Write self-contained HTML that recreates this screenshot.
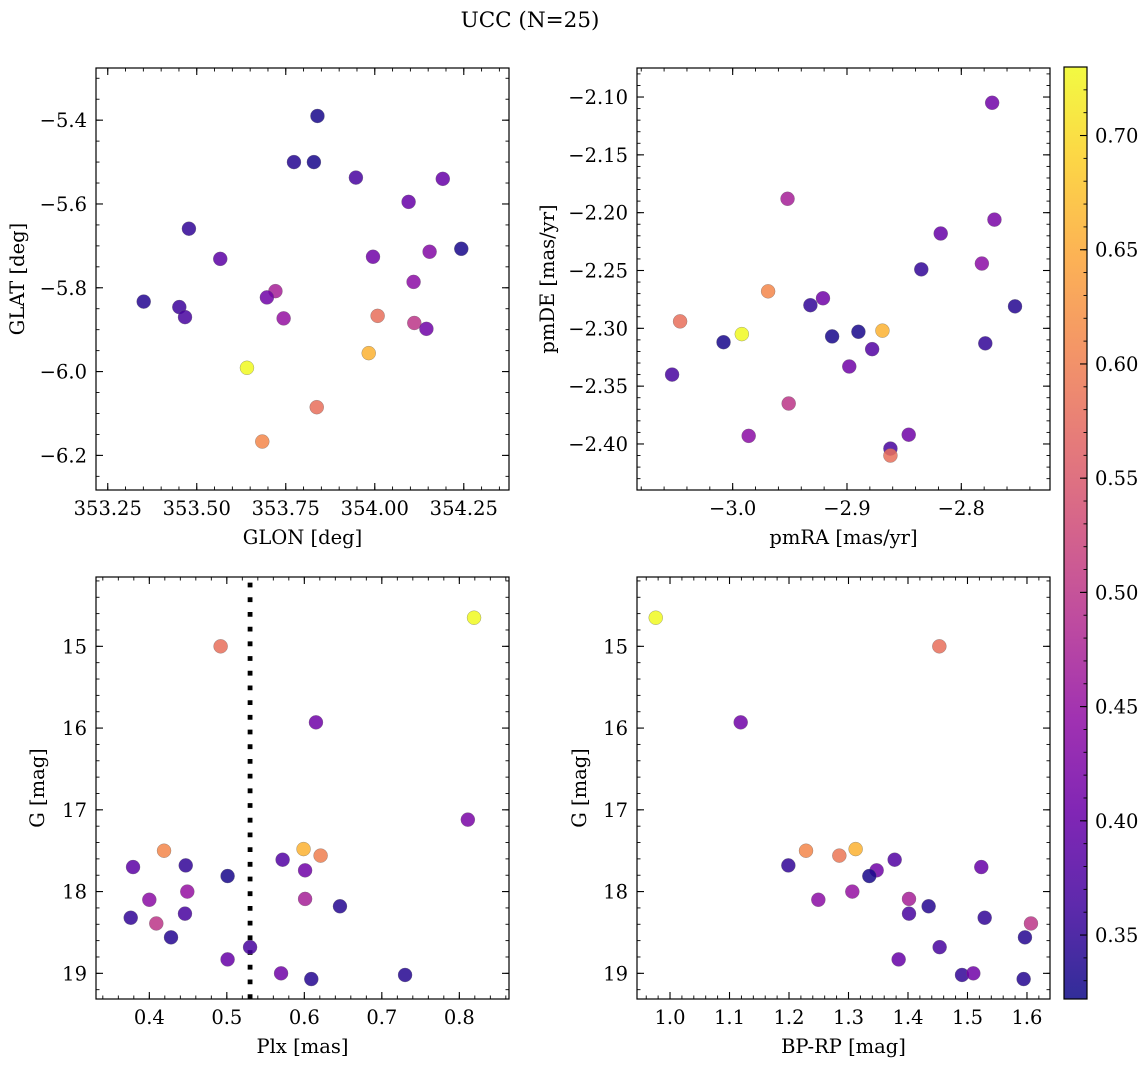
<!DOCTYPE html>
<html><head><meta charset="utf-8"><style>
body{margin:0;background:#fff}
svg text{font-family:"DejaVu Serif","Liberation Serif",serif;fill:#000}
</style></head><body>
<svg id="fig" width="1148" height="1067" viewBox="0 0 1148 1067" xmlns="http://www.w3.org/2000/svg">
<text x="530" y="27" font-size="21.5" text-anchor="middle">UCC (N=25)</text>
</svg>
<script>
// ---- data ----
const glon=[353.839,353.773,353.829,353.947,354.191,354.095,353.478,354.243,353.566,353.995,354.154,354.109,353.351,353.721,353.697,353.451,353.467,353.744,354.008,354.111,354.145,353.983,353.641,353.837,353.684];
const glat=[-5.390,-5.500,-5.500,-5.537,-5.540,-5.595,-5.659,-5.707,-5.731,-5.726,-5.714,-5.786,-5.833,-5.808,-5.823,-5.846,-5.870,-5.873,-5.867,-5.884,-5.898,-5.956,-5.991,-6.085,-6.167];
const cTL=[0.33,0.34,0.33,0.37,0.40,0.40,0.35,0.33,0.39,0.41,0.43,0.44,0.34,0.47,0.41,0.36,0.37,0.45,0.58,0.50,0.41,0.66,0.73,0.58,0.61];
const pmra=[-2.773,-2.952,-2.771,-2.818,-2.835,-2.782,-2.969,-2.921,-2.932,-2.753,-3.046,-2.992,-2.869,-3.008,-2.913,-2.890,-2.878,-2.779,-3.053,-2.898,-2.951,-2.986,-2.846,-2.862,-2.862];
const pmde=[-2.105,-2.188,-2.206,-2.218,-2.249,-2.244,-2.268,-2.274,-2.280,-2.281,-2.294,-2.305,-2.302,-2.312,-2.307,-2.303,-2.318,-2.313,-2.340,-2.333,-2.365,-2.393,-2.392,-2.404,-2.410];
const cTR=[0.41,0.47,0.42,0.40,0.35,0.44,0.61,0.41,0.35,0.34,0.58,0.73,0.66,0.33,0.33,0.33,0.38,0.35,0.37,0.41,0.50,0.44,0.41,0.37,0.58];
const plx=[0.819,0.492,0.615,0.811,0.599,0.621,0.419,0.572,0.379,0.447,0.601,0.501,0.449,0.400,0.601,0.646,0.376,0.446,0.409,0.428,0.530,0.501,0.570,0.609,0.730];
const gBL=[14.65,15.00,15.93,17.12,17.48,17.56,17.50,17.61,17.70,17.68,17.74,17.81,18.00,18.10,18.09,18.18,18.32,18.27,18.39,18.56,18.68,18.83,19.00,19.07,19.02];
const cBL=[0.73,0.58,0.41,0.42,0.66,0.60,0.61,0.38,0.39,0.35,0.41,0.33,0.45,0.44,0.47,0.34,0.35,0.37,0.50,0.34,0.37,0.40,0.41,0.34,0.34];
const bprp=[0.976,1.4527,1.1188,1.2286,1.2846,1.3120,1.1989,1.3776,1.3473,1.3350,1.5232,1.3064,1.2493,1.4017,1.4347,1.4017,1.5289,1.6067,1.5966,1.4532,1.3843,1.4908,1.5098,1.5944];
const gBR=[14.65,15.00,15.93,17.50,17.56,17.48,17.68,17.61,17.74,17.81,17.70,18.00,18.10,18.09,18.18,18.27,18.32,18.39,18.56,18.68,18.83,19.02,19.00,19.07];
const cBR=[0.73,0.58,0.41,0.61,0.59,0.66,0.35,0.38,0.41,0.33,0.40,0.45,0.44,0.47,0.34,0.37,0.35,0.50,0.34,0.37,0.40,0.35,0.41,0.34];
const plxCut=0.53;
const cmin=0.322, cmax=0.73;
const cbTicks=[0.35,0.40,0.45,0.50,0.55,0.60,0.65,0.70];

const NS="http://www.w3.org/2000/svg";
const svg=document.getElementById('fig');
const FS=19.5;
function mk(tag,attrs,parent){const e=document.createElementNS(NS,tag);for(const k in attrs)e.setAttribute(k,attrs[k]);(parent||svg).appendChild(e);return e;}
const stops=[[13,8,135],[65,4,157],[106,0,168],[143,13,164],[177,42,144],[204,71,120],[225,100,98],[242,132,75],[252,166,54],[252,206,37],[240,249,33]];
function plasma(t){t=Math.max(0,Math.min(1,t));const f=t*10,i=Math.min(9,Math.floor(f)),u=f-i;const a=stops[i],b=stops[i+1];
 return 'rgb('+[0,1,2].map(k=>Math.round(a[k]+(b[k]-a[k])*u)).join(',')+')';}
function cmap(v){return plasma((v-cmin)/(cmax-cmin));}
const fmt=(v,d)=>{const s=Math.abs(v).toFixed(d);return (v<-1e-9?'\u2212':'')+s;};

function panel(o){
 const {x0,y0,w,h,xd,yd,name}=o;
 const sx=v=>x0+(v-xd[0])/(xd[1]-xd[0])*w;
 const sy=v=>y0+(yd[1]-v)/(yd[1]-yd[0])*h;
 const g=mk('g',{});
 
 
 const lo=(a,b)=>Math.min(a,b),hi=(a,b)=>Math.max(a,b);
 function ticks(dom,step,len,isX,major){
  const a=lo(dom[0],dom[1]),b=hi(dom[0],dom[1]);
  for(let k=Math.ceil(a/step-1e-6);k*step<=b+1e-9;k++){
   const v=k*step;
   if(isX){const p=sx(v);
    mk('line',{x1:p,x2:p,y1:y0+h,y2:y0+h-len,stroke:'#000','stroke-width':major?1.1:0.9},g);
    mk('line',{x1:p,x2:p,y1:y0,y2:y0+len,stroke:'#000','stroke-width':major?1.1:0.9},g);
    if(major){const t=mk('text',{x:p,y:y0+h+25,'font-size':FS,'text-anchor':'middle'},g);t.textContent=fmt(v,o.xf);
     
     }
   } else {const p=sy(v);
    mk('line',{x1:x0,x2:x0+len,y1:p,y2:p,stroke:'#000','stroke-width':major?1.1:0.9},g);
    mk('line',{x1:x0+w,x2:x0+w-len,y1:p,y2:p,stroke:'#000','stroke-width':major?1.1:0.9},g);
    if(major){const t=mk('text',{x:x0-9,y:p+7,'font-size':FS,'text-anchor':'end'},g);t.textContent=o.yneg?fmt(-v,o.yf):fmt(v,o.yf);
     
     }
   }
  }
 }
 ticks(xd,o.xm,3.5,true,false);ticks(xd,o.xM,7,true,true);
 ticks(yd,o.ym,3.5,false,false);ticks(yd,o.yM,7,false,true);
 if(o.vline!==undefined){const l=mk('line',{x1:sx(o.vline),x2:sx(o.vline),y1:y0+h,y2:y0,stroke:'#000','stroke-width':4.8,'stroke-dasharray':'4.8 9.9'},g);
  
  }
 for(let i=0;i<o.xs.length;i++){
  const c=mk('circle',{cx:sx(o.xs[i]),cy:sy(o.ys[i]),r:7,fill:cmap(o.cs[i]),'fill-opacity':0.85,stroke:'#666','stroke-opacity':0.6,'stroke-width':0.5},g);
  
  
 }
 mk('rect',{x:x0,y:y0,width:w,height:h,fill:'none',stroke:'#000','stroke-width':1.2},g);
 const xl=mk('text',{x:x0+w/2,y:y0+h+54,'font-size':FS,'text-anchor':'middle'},g);xl.textContent=o.xl;
 
 
 const yl=mk('text',{x:o.ylx,y:y0+h/2,'font-size':FS,'text-anchor':'middle',transform:'rotate(-90 '+o.ylx+' '+(y0+h/2)+')'},g);yl.textContent=o.yl;
 
 
}
panel({name:'panel-glon-glat',x0:96,y0:68,w:413,h:422,xd:[353.217,354.377],yd:[-6.2826,-5.2755],xM:0.25,xm:0.05,yM:0.2,ym:0.05,xf:2,yf:1,xs:glon,ys:glat,cs:cTL,xl:'GLON [deg]',yl:'GLAT [deg]',ylx:24});
panel({name:'panel-pm',x0:637,y0:68,w:413,h:422,xd:[-3.0837,-2.7224],yd:[-2.4398,-2.0749],xM:0.1,xm:0.02,yM:0.05,ym:0.01,xf:1,yf:2,xs:pmra,ys:pmde,cs:cTR,xl:'pmRA [mas/yr]',yl:'pmDE [mas/yr]',ylx:554});
panel({name:'panel-plx-g',x0:96,y0:577,w:413,h:422,xd:[0.3312,0.8641],yd:[-19.314,-14.152],xM:0.1,xm:0.02,yM:1,ym:0.2,xf:1,yf:0,yneg:true,xs:plx,ys:gBL.map(v=>-v),cs:cBL,xl:'Plx [mas]',yl:'G [mag]',ylx:44,vline:plxCut});
panel({name:'panel-cmd',x0:637,y0:577,w:413,h:422,xd:[0.9445,1.6387],yd:[-19.314,-14.152],xM:0.1,xm:0.02,yM:1,ym:0.2,xf:1,yf:0,yneg:true,xs:bprp,ys:gBR.map(v=>-v),cs:cBR,xl:'BP-RP [mag]',yl:'G [mag]',ylx:586});
// colorbar
const cb={x:1064,y:67,w:23,h:932};
const defs=mk('defs',{});
const lg=mk('linearGradient',{id:'cbg',x1:0,y1:1,x2:0,y2:0},defs);
for(let i=0;i<=20;i++){mk('stop',{offset:i/20,'stop-color':plasma(i/20),'stop-opacity':0.85},lg);}
const cbr=mk('rect',{x:cb.x,y:cb.y,width:cb.w,height:cb.h,fill:'url(#cbg)',stroke:'#000','stroke-width':1.2});


const cy=v=>cb.y+(cmax-v)/(cmax-cmin)*cb.h;
for(let k=33;k<=72;k++){const p=cy(k/100);mk('line',{x1:cb.x+cb.w,x2:cb.x+cb.w-3.5,y1:p,y2:p,stroke:'#000','stroke-width':0.9});}
cbTicks.forEach(v=>{const p=cy(v);mk('line',{x1:cb.x+cb.w,x2:cb.x+cb.w-7,y1:p,y2:p,stroke:'#000','stroke-width':1.1});
 const t=mk('text',{x:cb.x+cb.w+8,y:p+7,'font-size':FS});t.textContent=v.toFixed(2);
 
 });
</script>
</body></html>
